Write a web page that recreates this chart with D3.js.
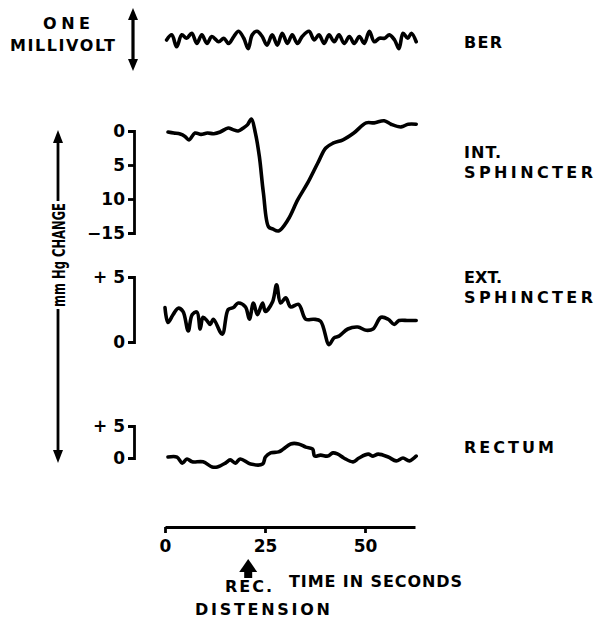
<!DOCTYPE html>
<html>
<head>
<meta charset="utf-8">
<script src="https://cdn.jsdelivr.net/npm/d3@7"></script>
<style>
body { margin: 0; background: #fff; }
text { font-family: "DejaVu Sans", sans-serif; font-weight: bold; fill: #000; }
</style>
</head>
<body>
<svg id="chart" width="596" height="625"></svg>
<script>
// --- Data (time in seconds, value in mV or mm Hg) ---
const timeTicks = [0, 25, 50];
const distensionTime = 20.8;

const berTrace = [
  [0.4, 0], [1.7, 0.083], [2.9, -0.11], [4.2, 0.083], [5.4, 0.028], [6.7, 0.11],
  [7.95, -0.056], [9.2, 0.083], [10.5, -0.056], [11.7, 0.056], [13.4, -0.028],
  [14.7, 0.028], [15.9, -0.056], [17.2, 0.056], [18.4, 0.14], [19.7, 0.028],
  [20.8, -0.14], [21.8, 0.083], [23.0, 0.14], [24.3, 0.056], [25.5, -0.083],
  [26.8, 0.083], [28.1, -0.083], [29.3, 0.11], [30.6, -0.056], [31.8, 0.083],
  [33.1, -0.056], [34.3, 0.056], [36.0, 0.14], [37.3, 0], [38.5, 0.083],
  [39.8, -0.056], [41.0, 0.083], [42.3, -0.028], [43.5, 0.083], [44.8, -0.056],
  [46.1, 0.056], [47.3, -0.056], [48.6, 0.056], [49.8, -0.056], [51.1, 0.14],
  [52.3, -0.028], [53.6, 0.028], [54.9, 0.028], [56.1, 0.083], [57.4, 0],
  [58.5, -0.14], [59.5, 0.11], [60.7, 0.028], [61.6, 0.11], [62.8, -0.028]
];

const intTrace = [
  [0.75, -0.15], [2.2, -0.3], [3.8, -0.45], [5.0, -0.8], [6.0, -1.3], [7.5, -0.3],
  [9.0, -0.5], [10.6, -0.3], [12.2, -0.4], [13.8, -0.15], [15.8, 0.45], [17.0, 0.2],
  [18.3, 0], [19.5, 0.4], [20.6, 0.9], [21.6, 1.75], [22.6, -0.3], [23.6, -3.8],
  [24.6, -9.1], [25.9, -14.1], [26.9, -14.4], [28.4, -14.7], [30.7, -13.1],
  [33.2, -10.1], [35.7, -7.6], [38.2, -4.7], [40.2, -2.5], [42.0, -1.8], [44.5, -1.3],
  [47.2, -0.3], [50.3, 1.2], [52.3, 1.2], [54.8, 1.5], [56.5, 1.0], [59.0, 0.6],
  [60.8, 1.0], [62.8, 1.0]
];

const extTrace = [
  [0, 2.65], [0.75, 1.5], [2.0, 2.1], [3.3, 2.6], [4.5, 2.35], [5.8, 0.85], [6.8, 2.1],
  [8.0, 2.3], [8.8, 1.0], [9.5, 1.9], [10.6, 1.6], [11.3, 1.35], [12.1, 1.75],
  [14.3, 0.6], [15.8, 2.5], [17.1, 2.65], [18.3, 3.0], [20.1, 2.7], [21.1, 1.75],
  [22.1, 3.0], [23.1, 2.1], [24.4, 3.0], [25.1, 2.35], [26.9, 3.1], [27.9, 4.4],
  [28.9, 3.0], [30.2, 3.4], [31.4, 2.7], [33.4, 2.9], [35.2, 1.75], [37.2, 1.75],
  [38.9, 1.6], [41.0, -0.2], [42.2, 0.3], [43.5, 0.45], [45.7, 1.0], [48.2, 1.15],
  [50.3, 0.9], [52.0, 1.0], [54.0, 1.9], [55.8, 1.75], [57.3, 1.35], [58.5, 1.65],
  [60.8, 1.65], [62.8, 1.65]
];

const rectTrace = [
  [0.75, 0.15], [3.0, 0.15], [4.3, -0.8], [5.5, -0.15], [6.8, -0.6], [9.5, -0.6],
  [11.8, -1.4], [13.1, -1.4], [15.1, -0.8], [16.3, -0.3], [17.6, -0.8], [18.8, -0.15],
  [21.4, -0.95], [24.4, -0.95], [25.1, 0.15], [26.4, 0.8], [28.4, 0.95], [29.6, 1.4],
  [31.4, 2.2], [33.4, 2.2], [35.2, 1.7], [36.9, 1.4], [37.4, 0.3], [38.9, 0.45],
  [40.7, 0.3], [42.0, 0.8], [43.2, 0.6], [44.7, 0], [47.0, -0.6], [48.5, 0],
  [50.8, 0.6], [52.0, 0.3], [53.3, 0.6], [55.8, 0.15], [57.8, -0.45], [59.5, 0],
  [61.1, -0.45], [62.8, 0.3]
];

const intTicks = [0, -5, -10, -15];
const intTickLabels = ["0", "5", "10", "\u221215"];
const extTicks = [0, 5];
const extTickLabels = ["0", "+ 5"];
const rectTicks = [0, 5];
const rectTickLabels = ["0", "+ 5"];

const traceNames = [["BER"], ["INT.", "SPHINCTER"], ["EXT.", "SPHINCTER"], ["RECTUM"]];

// --- Scales ---
const svg = d3.select("#chart");

const x = d3.scaleLinear().domain([0, 62.5]).range([165, 415]);
const yBer = d3.scaleLinear().domain([-0.5, 0.5]).range([71, 9]);
const yInt = d3.scaleLinear().domain([-15, 0]).range([233, 131]);
const yExt = d3.scaleLinear().domain([0, 5]).range([342, 277]);
const yRect = d3.scaleLinear().domain([0, 5]).range([458, 426]);

const line = y => d3.line()
  .x(d => x(d[0]))
  .y(d => y(d[1]))
  .curve(d3.curveCatmullRom.alpha(0.5));

// --- Traces ---
const traces = [
  { data: berTrace, y: yBer },
  { data: intTrace, y: yInt },
  { data: extTrace, y: yExt },
  { data: rectTrace, y: yRect }
];

svg.append("g")
  .selectAll("path")
  .data(traces)
  .enter()
  .append("path")
  .attr("d", d => line(d.y)(d.data))
  .attr("fill", "none")
  .attr("stroke", "#000")
  .attr("stroke-width", 3.6)
  .attr("stroke-linejoin", "round")
  .attr("stroke-linecap", "round");

// --- Bracket axes ---
function bracket(scale, ticks, labels) {
  const g = svg.append("g")
    .attr("transform", "translate(134,0)")
    .call(d3.axisLeft(scale)
      .tickValues(ticks)
      .tickFormat((d, i) => labels[i])
      .tickSize(6)
      .tickPadding(3));
  g.selectAll("path, line").attr("stroke", "#000").attr("stroke-width", 2.8);
  g.selectAll("text")
    .attr("font-size", 17)
    .attr("font-family", "DejaVu Sans, sans-serif")
    .attr("font-weight", "bold");
}
bracket(yInt, intTicks, intTickLabels);
bracket(yExt, extTicks, extTickLabels);
bracket(yRect, rectTicks, rectTickLabels);

// --- Time axis ---
const xAxis = svg.append("g")
  .attr("transform", "translate(0,527)")
  .call(d3.axisBottom(x).tickValues(timeTicks).tickSize(6).tickSizeOuter(0).tickPadding(7));
xAxis.selectAll("path, line").attr("stroke", "#000").attr("stroke-width", 2.8);
xAxis.selectAll("text")
  .attr("font-size", 17)
  .attr("font-family", "DejaVu Sans, sans-serif")
  .attr("font-weight", "bold");

// --- Helpers ---
function arrowHead(cx, tipY, dir, half, len) {
  svg.append("path")
    .attr("d", `M${cx},${tipY}L${cx - half},${tipY + dir * len}L${cx + half},${tipY + dir * len}Z`)
    .attr("fill", "#000");
}
function vline(cx, y1, y2, w) {
  svg.append("line")
    .attr("x1", cx).attr("x2", cx).attr("y1", y1).attr("y2", y2)
    .attr("stroke", "#000").attr("stroke-width", w);
}
function label(t, x0, y0, size, len) {
  return svg.append("text")
    .attr("x", x0).attr("y", y0)
    .attr("font-size", size)
    .attr("textLength", len)
    .attr("lengthAdjust", "spacing")
    .text(t);
}

// one millivolt double arrow
vline(133, 16, 62, 3.2);
arrowHead(133, 8, 1, 5, 12);
arrowHead(133, 71, -1, 5, 12);
label("ONE", 43, 29, 16, 47);
label("MILLIVOLT", 10, 51, 16, 105);

// mm Hg change vertical arrow
vline(58, 138, 201, 2.8);
vline(58, 309, 455, 2.8);
arrowHead(58, 130, 1, 5, 13);
arrowHead(58, 463, -1, 5, 13);
svg.append("text")
  .attr("transform", "translate(65,307) rotate(-90)")
  .attr("font-size", 17)
  .attr("textLength", 104)
  .attr("lengthAdjust", "spacingAndGlyphs")
  .text("mm Hg CHANGE");

// --- Trace names ---
const nameY = [[48], [158, 178], [283, 303], [453]];
const nameLen = { "BER": 38, "INT.": 37, "EXT.": 38, "SPHINCTER": 129, "RECTUM": 90 };
traceNames.forEach((lines, i) => {
  lines.forEach((t, j) => label(t, 464, nameY[i][j], 16, nameLen[t]));
});

// --- Distension marker ---
const ax = x(distensionTime);
arrowHead(ax, 559, 1, 9, 13);
svg.append("rect").attr("x", ax - 4).attr("y", 570).attr("width", 8).attr("height", 8).attr("fill", "#000");
label("REC.", 225, 592, 16, 47);
label("DISTENSION", 195, 615, 16, 135);
label("TIME IN SECONDS", 289, 587, 16, 173);
</script>
</body>
</html>
